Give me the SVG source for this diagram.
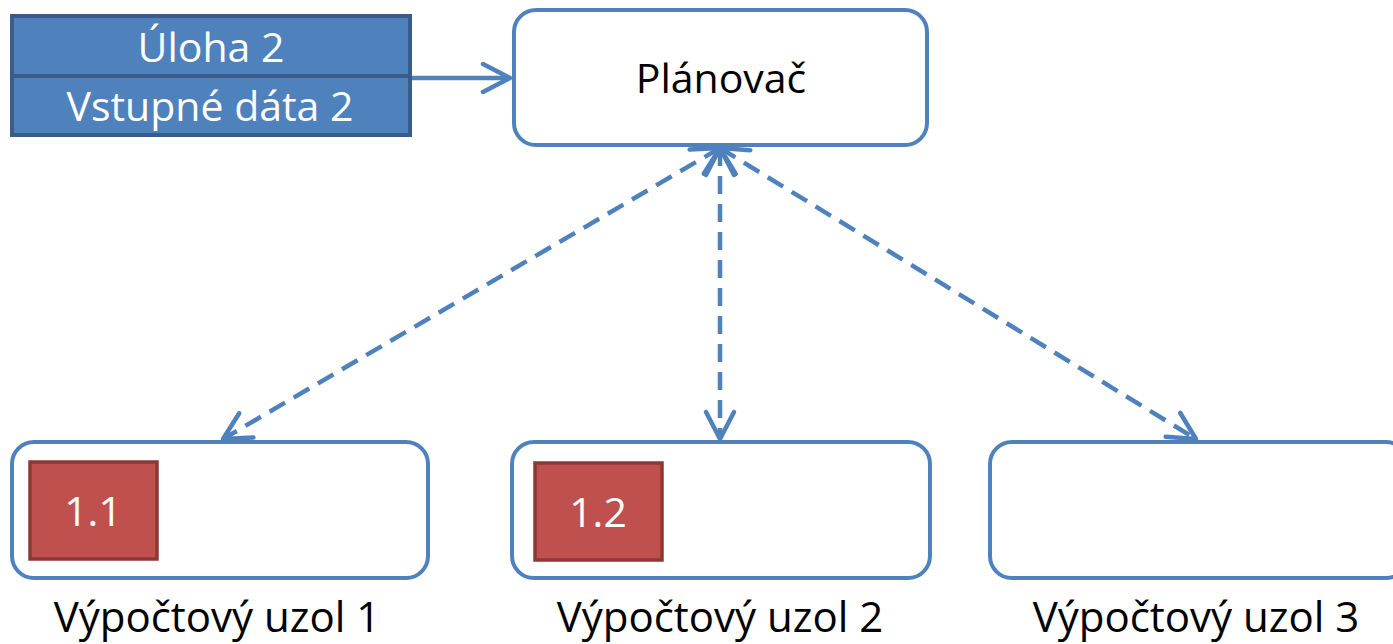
<svg xmlns="http://www.w3.org/2000/svg" width="1393" height="644" viewBox="0 0 1393 644">
  <style>
    .lbl { font-family: "Open Sans", "Noto Sans", "Liberation Sans", sans-serif; font-size: 41px; text-anchor: middle; }
    .caption { font-size: 42px; }
    .dark { fill: #000000; }
    .light { fill: #ffffff; }
    .node { fill: #ffffff; stroke: #4f81bd; stroke-width: 4; }
    .task { fill: #4f81bd; stroke: #385d8a; stroke-width: 4; }
    .job { fill: #c0504d; stroke: #8c3836; stroke-width: 3.5; }
    .link { fill: none; stroke: #4f81bd; stroke-width: 4.5; }
    .dashed { stroke-dasharray: 18 10; }
  </style>
  <defs>
    <marker id="open-arrow" markerUnits="userSpaceOnUse" viewBox="-32 -18 36 36" refX="0" refY="0" markerWidth="36" markerHeight="36" orient="auto-start-reverse">
      <path d="M-27,-14 L0,0 L-27,14" fill="none" stroke="#4f81bd" stroke-width="4.5" stroke-linecap="round" stroke-linejoin="round"/>
    </marker>
  </defs>

  <rect width="1393" height="644" fill="#ffffff"/>

  <!-- connectors -->
  <g id="connectors">
    <line class="link" x1="410" y1="78" x2="510" y2="78" marker-end="url(#open-arrow)"/>
    <line class="link dashed" x1="720" y1="148" x2="223" y2="439" marker-start="url(#open-arrow)" marker-end="url(#open-arrow)"/>
    <line class="link dashed" x1="720" y1="148" x2="720" y2="439" marker-start="url(#open-arrow)" marker-end="url(#open-arrow)"/>
    <line class="link dashed" x1="720" y1="148" x2="1196" y2="439" marker-start="url(#open-arrow)" marker-end="url(#open-arrow)"/>
  </g>

  <!-- incoming task with its input data -->
  <g id="task-2">
    <rect class="task" x="12" y="16" width="398" height="119"/>
    <line x1="12" y1="76" x2="410" y2="76" stroke="#385d8a" stroke-width="4"/>
    <text class="lbl light" x="211" y="62">Úloha 2</text>
    <text class="lbl light" x="210" y="121">Vstupné dáta 2</text>
  </g>

  <!-- scheduler -->
  <g id="scheduler">
    <rect class="node" x="514" y="10" width="413" height="135" rx="22"/>
    <text class="lbl dark" x="721" y="93">Plánovač</text>
  </g>

  <!-- compute nodes -->
  <g id="compute-node-1">
    <rect class="node" x="12" y="442" width="416" height="136" rx="22"/>
    <rect class="job" x="30" y="462" width="127" height="97"/>
    <text class="lbl light" x="93" y="526">1.1</text>
    <text class="lbl caption dark" x="217" y="632">Výpočtový uzol 1</text>
  </g>

  <g id="compute-node-2">
    <rect class="node" x="512" y="442" width="418" height="136" rx="22"/>
    <rect class="job" x="535" y="463" width="127" height="97"/>
    <text class="lbl light" x="598" y="527">1.2</text>
    <text class="lbl caption dark" x="720" y="632">Výpočtový uzol 2</text>
  </g>

  <g id="compute-node-3">
    <rect class="node" x="990" y="442" width="418" height="136" rx="22"/>
    <text class="lbl caption dark" x="1196" y="632">Výpočtový uzol 3</text>
  </g>
</svg>
